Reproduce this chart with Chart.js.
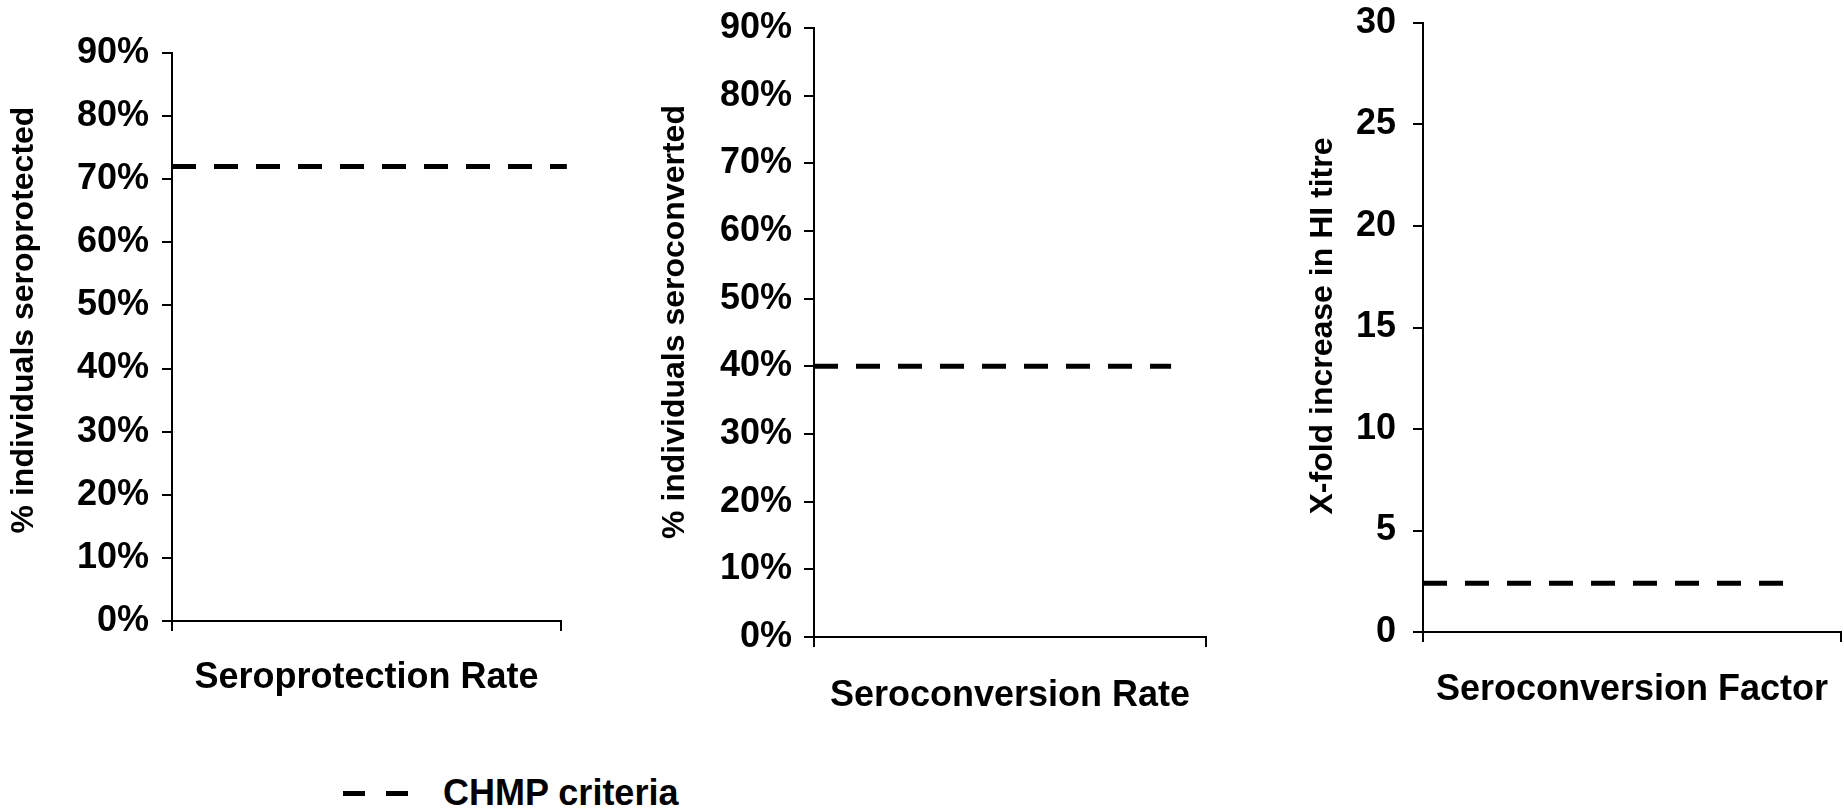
<!DOCTYPE html>
<html>
<head>
<meta charset="utf-8">
<script src="https://cdn.jsdelivr.net/npm/chart.js@4/dist/chart.umd.min.js"></script>
<style>
    body { margin: 0; background: #fff; width: 1844px; height: 810px; overflow: hidden; position: relative; }
    canvas { position: absolute; }
    #legend { position: absolute; left: 343px; top: 773px; height: 40px; display: flex; align-items: center;
              font: bold 36px "Liberation Sans", Arial, sans-serif; color: #000; }
    #legend .dash { width: 22px; height: 5px; background: #000; margin-right: 21px; }
    #legend .txt { margin-left: 14px; line-height: 40px; }
</style>
</head>
<body>
<canvas id="chart1" width="600" height="701" style="left:0px;top:0px"></canvas>
<canvas id="chart2" width="620" height="717" style="left:620px;top:0px"></canvas>
<canvas id="chart3" width="604" height="712" style="left:1240px;top:0px"></canvas>
<div id="legend"><span class="dash"></span><span class="dash"></span><span class="txt" id="legendText"></span></div>

<script>
// Data
const panelNames = ["Seroprotection Rate", "Seroconversion Rate", "Seroconversion Factor"];
const yTitles = ["% individuals seroprotected", "% individuals seroconverted", "X-fold increase in HI titre"];
const chmpCriteria = [72, 40, 2.4];
const yMax = [90, 90, 30];
const yStep = [10, 10, 5];
const yUnit = ["%", "%", ""];
const legendLabel = "CHMP criteria";

// Layout of each panel (pixels / x-extent of the criteria line)
const panelLayout = [
    { id: "chart1", axisWidth: 172, top: 53, right: 39, xAxisHeight: 80, titleGap: 57, yTitleX: 24, yTitleY: 320, tickPad: 13, lineEnd: 1.015 },
    { id: "chart2", axisWidth: 194, top: 28, right: 34, xAxisHeight: 80, titleGap: 59, yTitleX: 55, yTitleY: 322, tickPad: 12, lineEnd: 0.911 },
    { id: "chart3", axisWidth: 183, top: 23, right: 3, xAxisHeight: 80, titleGap: 58, yTitleX: 83, yTitleY: 326, tickPad: 17, lineEnd: 0.878 }
];

const FONT = "'Liberation Sans', Arial, sans-serif";

// Rotated y axis title, placed like the original
const yTitlePlugin = {
    id: "yTitle",
    afterDraw(chart, args, opts) {
        const ctx = chart.ctx;
        ctx.save();
        ctx.translate(opts.x, opts.y);
        ctx.rotate(-Math.PI / 2);
        ctx.font = "bold 32px " + FONT;
        ctx.fillStyle = "#000";
        ctx.textAlign = "center";
        ctx.textBaseline = "middle";
        ctx.fillText(opts.text, 0, 0);
        ctx.restore();
    }
};

function buildPanel(i) {
    const lay = panelLayout[i];
    const ctx = document.getElementById(lay.id).getContext("2d");

    new Chart(ctx, {
        type: "line",
        data: {
            datasets: [{
                label: legendLabel,
                data: [{ x: 0, y: chmpCriteria[i] }, { x: lay.lineEnd, y: chmpCriteria[i] }],
                borderColor: "#000",
                borderWidth: 5,
                borderDash: [24, 18],
                pointRadius: 0,
                clip: false
            }]
        },
        plugins: [yTitlePlugin],
        options: {
            responsive: false,
            animation: false,
            layout: { padding: { left: 0, top: lay.top, right: lay.right, bottom: 0 } },
            plugins: {
                legend: { display: false },
                tooltip: { enabled: false },
                yTitle: { text: yTitles[i], x: lay.yTitleX, y: lay.yTitleY }
            },
            scales: {
                x: {
                    type: "linear",
                    min: 0,
                    max: 1,
                    ticks: { display: false, stepSize: 1 },
                    grid: { drawOnChartArea: false, drawTicks: true, tickLength: 10, color: "#000", lineWidth: 2 },
                    border: { display: true, color: "#000", width: 2 },
                    title: {
                        display: true,
                        text: panelNames[i],
                        color: "#000",
                        font: { family: FONT, size: 36, weight: "bold", lineHeight: 1.2 },
                        padding: { top: 0, bottom: lay.xAxisHeight - lay.titleGap - 21.6 }
                    },
                    afterFit: scale => { scale.height = lay.xAxisHeight; }
                },
                y: {
                    min: 0,
                    max: yMax[i],
                    ticks: {
                        stepSize: yStep[i],
                        color: "#000",
                        padding: lay.tickPad,
                        font: { family: FONT, size: 36, weight: "bold", lineHeight: 0.25 },
                        callback: v => v + yUnit[i]
                    },
                    grid: { drawOnChartArea: false, drawTicks: true, tickLength: 10, color: "#000", lineWidth: 2 },
                    border: { display: true, color: "#000", width: 2 },
                    afterFit: scale => { scale.width = lay.axisWidth; }
                }
            }
        }
    });
}

panelNames.forEach((name, i) => buildPanel(i));
document.getElementById("legendText").textContent = legendLabel;
</script>
</body>
</html>
